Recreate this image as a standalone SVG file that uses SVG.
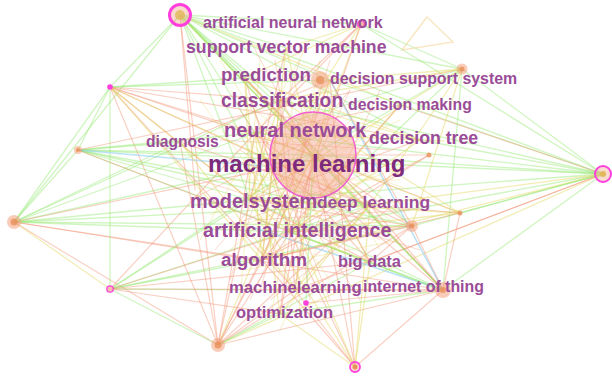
<svg xmlns="http://www.w3.org/2000/svg" width="612" height="376" viewBox="0 0 612 376">
<style>
.g{stroke:#8ee66c;stroke-width:1.3;opacity:.42}
.y{stroke:#e2d860;stroke-width:1.3;opacity:.45}
.o{stroke:#f09070;stroke-width:1.2;opacity:.42}
.b{stroke:#8fcfee;stroke-width:1.6;opacity:.6}
.m line{stroke-width:1;opacity:.35}
.lab{font-family:"Liberation Sans",Arial,sans-serif;font-weight:bold;fill:#9a4c98}
.halo{fill:#f4a080;opacity:.55}
.core{fill:#e8905a;opacity:.8}
.ring{fill:#f6b8a0;fill-opacity:.5;stroke:#ff40dd}
</style>
<rect width="612" height="376" fill="#ffffff"/>
<g id="connectors" fill="none">
<line class="g" x1="180" y1="15" x2="361" y2="24"/>
<line class="g" x1="180" y1="15" x2="462" y2="69"/>
<line class="g" x1="180" y1="15" x2="603" y2="174"/>
<line class="g" x1="180" y1="15" x2="313" y2="155"/>
<line class="g" x1="180" y1="15" x2="255" y2="133"/>
<line class="g" x1="180" y1="15" x2="280" y2="100"/>
<line class="g" x1="180" y1="15" x2="245" y2="78"/>
<line class="g" x1="180" y1="15" x2="250" y2="200"/>
<line class="g" x1="180" y1="15" x2="110" y2="87"/>
<line class="g" x1="180" y1="15" x2="14" y2="222"/>
<line class="g" x1="180" y1="15" x2="330" y2="80"/>
<line class="g" x1="180" y1="15" x2="412" y2="226"/>
<line class="g" x1="180" y1="15" x2="370" y2="205"/>
<line class="g" x1="180" y1="15" x2="420" y2="140"/>
<line class="g" x1="180" y1="15" x2="290" y2="232"/>
<line class="g" x1="180" y1="15" x2="286" y2="48"/>
<line class="o" x1="180" y1="15" x2="195" y2="190"/>
<line class="y" x1="180" y1="15" x2="400" y2="105"/>
<line class="y" x1="180" y1="15" x2="443" y2="290"/>
<line class="g" x1="603" y1="174" x2="361" y2="24"/>
<line class="g" x1="603" y1="174" x2="330" y2="80"/>
<line class="g" x1="603" y1="174" x2="313" y2="155"/>
<line class="g" x1="603" y1="174" x2="255" y2="133"/>
<line class="g" x1="603" y1="174" x2="78" y2="150"/>
<line class="g" x1="603" y1="174" x2="250" y2="200"/>
<line class="g" x1="603" y1="174" x2="290" y2="232"/>
<line class="g" x1="603" y1="174" x2="412" y2="226"/>
<line class="g" x1="603" y1="174" x2="443" y2="290"/>
<line class="g" x1="603" y1="174" x2="462" y2="69"/>
<line class="g" x1="603" y1="174" x2="420" y2="140"/>
<line class="g" x1="603" y1="174" x2="280" y2="100"/>
<line class="y" x1="603" y1="174" x2="262" y2="260"/>
<line class="y" x1="603" y1="174" x2="370" y2="205"/>
<line class="y" x1="603" y1="174" x2="218" y2="345"/>
<line class="o" x1="603" y1="174" x2="295" y2="290"/>
<line class="o" x1="603" y1="174" x2="370" y2="262"/>
<line class="o" x1="603" y1="174" x2="400" y2="105"/>
<line class="g" x1="14" y1="222" x2="110" y2="87"/>
<line class="g" x1="14" y1="222" x2="313" y2="155"/>
<line class="g" x1="14" y1="222" x2="255" y2="133"/>
<line class="g" x1="14" y1="222" x2="250" y2="200"/>
<line class="g" x1="14" y1="222" x2="290" y2="232"/>
<line class="g" x1="14" y1="222" x2="78" y2="150"/>
<line class="g" x1="14" y1="222" x2="412" y2="226"/>
<line class="g" x1="14" y1="222" x2="180" y2="142"/>
<line class="g" x1="14" y1="222" x2="280" y2="100"/>
<line class="g" x1="14" y1="222" x2="370" y2="205"/>
<line class="o" x1="14" y1="222" x2="218" y2="345"/>
<line class="y" x1="14" y1="222" x2="110" y2="289"/>
<line class="o" x1="14" y1="222" x2="313" y2="160"/>
<line class="o" x1="14" y1="222" x2="443" y2="290"/>
<line class="o" x1="14" y1="222" x2="262" y2="260"/>
<line class="g" x1="110" y1="289" x2="250" y2="200"/>
<line class="g" x1="110" y1="289" x2="262" y2="260"/>
<line class="g" x1="110" y1="289" x2="313" y2="155"/>
<line class="g" x1="110" y1="289" x2="412" y2="226"/>
<line class="g" x1="110" y1="289" x2="110" y2="87"/>
<line class="g" x1="110" y1="289" x2="295" y2="290"/>
<line class="g" x1="110" y1="289" x2="370" y2="205"/>
<line class="o" x1="110" y1="289" x2="290" y2="232"/>
<line class="o" x1="110" y1="289" x2="443" y2="290"/>
<line class="o" x1="110" y1="289" x2="280" y2="314"/>
<line class="o" x1="110" y1="289" x2="370" y2="262"/>
<line class="o" x1="110" y1="289" x2="255" y2="133"/>
<line class="o" x1="218" y1="345" x2="313" y2="155"/>
<line class="o" x1="218" y1="345" x2="262" y2="260"/>
<line class="o" x1="218" y1="345" x2="290" y2="232"/>
<line class="o" x1="218" y1="345" x2="295" y2="290"/>
<line class="o" x1="218" y1="345" x2="412" y2="226"/>
<line class="o" x1="218" y1="345" x2="443" y2="290"/>
<line class="o" x1="218" y1="345" x2="110" y2="87"/>
<line class="o" x1="218" y1="345" x2="180" y2="15"/>
<line class="o" x1="218" y1="345" x2="250" y2="200"/>
<line class="o" x1="218" y1="345" x2="370" y2="205"/>
<line class="o" x1="218" y1="345" x2="255" y2="133"/>
<line class="o" x1="218" y1="345" x2="180" y2="142"/>
<line class="g" x1="218" y1="345" x2="370" y2="262"/>
<line class="g" x1="218" y1="345" x2="280" y2="314"/>
<line class="g" x1="218" y1="345" x2="110" y2="289"/>
<line class="y" x1="218" y1="345" x2="330" y2="80"/>
<line class="o" x1="355" y1="367" x2="313" y2="155"/>
<line class="o" x1="355" y1="367" x2="295" y2="290"/>
<line class="o" x1="355" y1="367" x2="262" y2="260"/>
<line class="y" x1="355" y1="367" x2="370" y2="205"/>
<line class="y" x1="355" y1="367" x2="370" y2="262"/>
<line class="o" x1="355" y1="367" x2="290" y2="232"/>
<line class="y" x1="355" y1="367" x2="250" y2="200"/>
<line class="o" x1="355" y1="367" x2="443" y2="290"/>
<line class="y" x1="355" y1="367" x2="280" y2="314"/>
<line class="o" x1="355" y1="367" x2="330" y2="80"/>
<line class="y" x1="355" y1="367" x2="255" y2="133"/>
<line class="g" x1="443" y1="290" x2="313" y2="155"/>
<line class="g" x1="443" y1="290" x2="250" y2="200"/>
<line class="g" x1="443" y1="290" x2="290" y2="232"/>
<line class="g" x1="443" y1="290" x2="280" y2="314"/>
<line class="o" x1="443" y1="290" x2="255" y2="133"/>
<line class="o" x1="443" y1="290" x2="370" y2="205"/>
<line class="o" x1="443" y1="290" x2="295" y2="290"/>
<line class="o" x1="443" y1="290" x2="245" y2="78"/>
<line class="b" x1="443" y1="290" x2="330" y2="80"/>
<line class="b" x1="443" y1="290" x2="255" y2="228"/>
<line class="g" x1="443" y1="290" x2="180" y2="15"/>
<line class="o" x1="110" y1="87" x2="313" y2="155"/>
<line class="o" x1="110" y1="87" x2="255" y2="133"/>
<line class="o" x1="110" y1="87" x2="280" y2="100"/>
<line class="o" x1="110" y1="87" x2="250" y2="200"/>
<line class="o" x1="110" y1="87" x2="295" y2="290"/>
<line class="o" x1="110" y1="87" x2="412" y2="226"/>
<line class="y" x1="110" y1="87" x2="370" y2="205"/>
<line class="y" x1="110" y1="87" x2="290" y2="232"/>
<line class="o" x1="110" y1="87" x2="420" y2="140"/>
<line class="g" x1="110" y1="87" x2="78" y2="150"/>
<line class="g" x1="110" y1="87" x2="245" y2="78"/>
<line class="y" x1="110" y1="87" x2="262" y2="260"/>
<line class="g" x1="110" y1="87" x2="330" y2="80"/>
<line class="g" x1="78" y1="150" x2="313" y2="155"/>
<line class="g" x1="78" y1="150" x2="255" y2="133"/>
<line class="g" x1="78" y1="150" x2="412" y2="226"/>
<line class="g" x1="78" y1="150" x2="443" y2="290"/>
<line class="g" x1="78" y1="150" x2="250" y2="200"/>
<line class="g" x1="78" y1="150" x2="370" y2="205"/>
<line class="g" x1="78" y1="150" x2="180" y2="142"/>
<line class="b" x1="78" y1="150" x2="262" y2="166"/>
<line class="o" x1="78" y1="150" x2="462" y2="69"/>
<line class="o" x1="78" y1="150" x2="290" y2="232"/>
<line class="g" x1="462" y1="69" x2="313" y2="155"/>
<line class="y" x1="462" y1="69" x2="330" y2="80"/>
<line class="g" x1="462" y1="69" x2="255" y2="133"/>
<line class="y" x1="462" y1="69" x2="250" y2="200"/>
<line class="g" x1="462" y1="69" x2="361" y2="24"/>
<line class="y" x1="462" y1="69" x2="412" y2="226"/>
<line class="y" x1="462" y1="69" x2="280" y2="100"/>
<line class="y" x1="462" y1="69" x2="370" y2="205"/>
<line class="g" x1="462" y1="69" x2="290" y2="232"/>
<line class="g" x1="462" y1="69" x2="443" y2="290"/>
<line class="y" x1="361" y1="24" x2="313" y2="155"/>
<line class="o" x1="361" y1="24" x2="280" y2="100"/>
<line class="y" x1="361" y1="24" x2="245" y2="78"/>
<line class="o" x1="361" y1="24" x2="255" y2="133"/>
<line class="y" x1="361" y1="24" x2="250" y2="200"/>
<line class="o" x1="361" y1="24" x2="290" y2="232"/>
<line class="y" x1="361" y1="24" x2="286" y2="48"/>
<line class="o" x1="460" y1="213" x2="313" y2="155"/>
<line class="y" x1="460" y1="213" x2="255" y2="133"/>
<line class="y" x1="460" y1="213" x2="250" y2="200"/>
<line class="o" x1="460" y1="213" x2="370" y2="205"/>
<line class="y" x1="460" y1="213" x2="290" y2="232"/>
<line class="o" x1="460" y1="213" x2="443" y2="290"/>
<line class="g" x1="460" y1="213" x2="603" y2="174"/>
<line class="o" x1="460" y1="213" x2="262" y2="260"/>
<line class="y" x1="460" y1="213" x2="280" y2="100"/>
<line class="o" x1="412" y1="226" x2="313" y2="155"/>
<line class="o" x1="412" y1="226" x2="290" y2="232"/>
<line class="o" x1="412" y1="226" x2="262" y2="260"/>
<line class="o" x1="412" y1="226" x2="370" y2="262"/>
<line class="o" x1="412" y1="226" x2="250" y2="200"/>
<line class="o" x1="412" y1="226" x2="443" y2="290"/>
<line class="o" x1="412" y1="226" x2="330" y2="80"/>
<line class="y" x1="245" y1="78" x2="313" y2="155"/>
<line class="y" x1="245" y1="78" x2="250" y2="200"/>
<line class="o" x1="245" y1="78" x2="290" y2="232"/>
<line class="y" x1="245" y1="78" x2="262" y2="260"/>
<line class="o" x1="245" y1="78" x2="370" y2="205"/>
<line class="y" x1="245" y1="78" x2="420" y2="140"/>
<line class="y" x1="280" y1="100" x2="250" y2="200"/>
<line class="o" x1="280" y1="100" x2="262" y2="260"/>
<line class="y" x1="280" y1="100" x2="370" y2="262"/>
<line class="o" x1="280" y1="100" x2="295" y2="290"/>
<line class="y" x1="280" y1="100" x2="420" y2="140"/>
<line class="y" x1="255" y1="133" x2="290" y2="232"/>
<line class="o" x1="255" y1="133" x2="370" y2="262"/>
<line class="y" x1="255" y1="133" x2="280" y2="314"/>
<line class="o" x1="255" y1="133" x2="400" y2="105"/>
<line class="y" x1="250" y1="200" x2="370" y2="205"/>
<line class="o" x1="250" y1="200" x2="370" y2="262"/>
<line class="y" x1="250" y1="200" x2="295" y2="290"/>
<line class="o" x1="250" y1="200" x2="420" y2="140"/>
<line class="y" x1="290" y1="232" x2="370" y2="262"/>
<line class="o" x1="290" y1="232" x2="280" y2="314"/>
<line class="y" x1="290" y1="232" x2="420" y2="140"/>
<line class="o" x1="262" y1="260" x2="370" y2="205"/>
<line class="y" x1="262" y1="260" x2="313" y2="155"/>
<line class="o" x1="295" y1="290" x2="313" y2="155"/>
<line class="y" x1="295" y1="290" x2="370" y2="205"/>
<line class="o" x1="280" y1="314" x2="313" y2="155"/>
<line class="y" x1="280" y1="314" x2="370" y2="205"/>
<line class="o" x1="370" y1="262" x2="313" y2="155"/>
<line class="y" x1="330" y1="80" x2="250" y2="200"/>
<line class="o" x1="330" y1="80" x2="262" y2="260"/>
<line class="y" x1="330" y1="80" x2="295" y2="290"/>
<line class="o" x1="330" y1="80" x2="180" y2="142"/>
<line class="y" x1="286" y1="48" x2="313" y2="155"/>
<line class="o" x1="286" y1="48" x2="250" y2="200"/>
<line class="y" x1="286" y1="48" x2="262" y2="260"/>
<line class="o" x1="180" y1="142" x2="370" y2="205"/>
<line class="y" x1="180" y1="142" x2="295" y2="290"/>
<line class="o" x1="429" y1="155" x2="313" y2="155"/>
<line class="o" x1="429" y1="155" x2="290" y2="232"/>
<line class="o" x1="429" y1="155" x2="262" y2="260"/>
<line class="y" x1="444" y1="141" x2="255" y2="133"/>
<line class="y" x1="400" y1="105" x2="290" y2="232"/>
<line class="o" x1="400" y1="105" x2="262" y2="260"/>
<line class="g" x1="306" y1="303" x2="313" y2="155"/>
<line class="o" x1="306" y1="303" x2="443" y2="290"/>
<line class="g" x1="290" y1="232" x2="440" y2="290"/>
<g class="m">
<line class="y" x1="220" y1="60" x2="340" y2="250"/>
<line class="y" x1="230" y1="90" x2="390" y2="220"/>
<line class="o" x1="240" y1="110" x2="360" y2="300"/>
<line class="y" x1="260" y1="60" x2="240" y2="300"/>
<line class="o" x1="300" y1="60" x2="230" y2="280"/>
<line class="y" x1="320" y1="60" x2="270" y2="320"/>
<line class="o" x1="350" y1="90" x2="250" y2="300"/>
<line class="y" x1="380" y1="120" x2="230" y2="250"/>
<line class="o" x1="400" y1="160" x2="220" y2="230"/>
<line class="y" x1="410" y1="190" x2="210" y2="120"/>
<line class="o" x1="200" y1="180" x2="420" y2="250"/>
<line class="y" x1="210" y1="215" x2="400" y2="120"/>
<line class="o" x1="215" y1="250" x2="350" y2="90"/>
<line class="y" x1="235" y1="270" x2="380" y2="170"/>
<line class="o" x1="260" y1="290" x2="330" y2="60"/>
<line class="y" x1="300" y1="320" x2="290" y2="70"/>
<line class="o" x1="330" y1="300" x2="250" y2="100"/>
<line class="y" x1="350" y1="250" x2="230" y2="120"/>
<line class="o" x1="380" y1="240" x2="240" y2="150"/>
<line class="y" x1="230" y1="180" x2="400" y2="180"/>
<line class="o" x1="220" y1="140" x2="390" y2="150"/>
<line class="y" x1="240" y1="240" x2="360" y2="110"/>
<line class="o" x1="275" y1="60" x2="310" y2="300"/>
<line class="y" x1="200" y1="100" x2="330" y2="280"/>
<line class="o" x1="255" y1="220" x2="410" y2="210"/>
<line class="y" x1="245" y1="270" x2="400" y2="240"/>
<line class="o" x1="270" y1="300" x2="400" y2="200"/>
<line class="y" x1="300" y1="100" x2="380" y2="250"/>
<line class="o" x1="320" y1="120" x2="260" y2="240"/>
<line class="y" x1="340" y1="200" x2="210" y2="160"/>
<line class="o" x1="190" y1="200" x2="330" y2="130"/>
<line class="y" x1="200" y1="240" x2="310" y2="40"/>
<line class="o" x1="380" y1="90" x2="300" y2="260"/>
<line class="y" x1="360" y1="150" x2="280" y2="330"/>
<line class="o" x1="250" y1="40" x2="350" y2="230"/>
<line class="y" x1="230" y1="230" x2="420" y2="160"/>
</g>
<polygon points="427,17 453,42 402,50" fill="none" stroke="#f3cf8a" stroke-width="1.5" opacity=".5"/>
</g>
<g id="node-machine-learning">
<circle cx="313" cy="155" r="43" fill="#f3a088" fill-opacity=".45" stroke="#f060d0" stroke-width="1.5"/>
<text class="lab" x="208" y="172" font-size="24" style="fill:#7d2a7c">machine learning</text>
</g>
<g id="node-top-left"><circle class="ring" cx="180" cy="15" r="10.5" stroke-width="3"/><circle cx="180" cy="15" r="5" fill="#e2b85a" opacity=".8"/></g>
<g id="node-top-mid"><circle cx="361" cy="24" r="3.5" fill="#f6b8a0" stroke="#ff50e0" stroke-width="1.5"/></g>
<g id="node-prediction-side"><circle class="halo" cx="320" cy="80" r="9"/><circle class="core" cx="320" cy="80" r="4"/></g>
<g id="node-dss-side"><circle class="halo" cx="462" cy="69" r="5.5"/><circle class="core" cx="462" cy="69" r="2.5"/></g>
<g id="node-left-upper"><circle cx="110" cy="87" r="2.8" fill="#ff40dd"/></g>
<g id="node-left-mid"><circle class="halo" cx="78" cy="150" r="4"/><circle class="core" cx="78" cy="150" r="2"/></g>
<g id="node-left"><circle class="halo" cx="14" cy="222" r="7"/><circle class="core" cx="14" cy="222" r="3.5"/></g>
<g id="node-left-lower"><circle cx="110" cy="289" r="3.2" fill="#f6c0b0" stroke="#ff40dd" stroke-width="1.3"/></g>
<g id="node-bottom-left"><circle class="halo" cx="218" cy="345" r="7"/><circle class="core" cx="218" cy="345" r="3.5"/></g>
<g id="node-bottom"><circle class="ring" cx="355" cy="367" r="5" stroke-width="1.8"/><circle cx="355" cy="367" r="2.5" fill="#e8905a"/></g>
<g id="node-iot-side"><circle class="halo" cx="443" cy="290" r="8"/><circle class="core" cx="443" cy="290" r="3"/></g>
<g id="node-dl-side"><circle class="halo" cx="412" cy="226" r="6"/><circle class="core" cx="412" cy="226" r="2.5"/></g>
<g id="node-dl-small"><circle class="core" cx="460" cy="213" r="2.5"/></g>
<g id="node-dt-small"><circle class="core" cx="429" cy="155" r="2.5"/></g>
<g id="node-right"><circle class="ring" cx="603" cy="174" r="8" stroke-width="2"/><circle cx="603" cy="174" r="3" fill="#e2b85a"/></g>
<g id="node-ml-small"><circle cx="306" cy="303" r="2.8" fill="#ff40dd"/></g>
<g id="labels">
<g id="node-artificial-neural-network"><text class="lab" x="203" y="28" font-size="16">artificial neural network</text></g>
<g id="node-support-vector-machine"><text class="lab" x="186" y="53" font-size="17.7">support vector machine</text></g>
<g id="node-prediction"><text class="lab" x="221" y="81" font-size="18.6">prediction</text></g>
<g id="node-decision-support-system"><text class="lab" x="330" y="84" font-size="15.9">decision support system</text></g>
<g id="node-classification"><text class="lab" x="221" y="107" font-size="19.3">classification</text></g>
<g id="node-decision-making"><text class="lab" x="348" y="110" font-size="15.8">decision making</text></g>
<g id="node-neural-network"><text class="lab" x="224" y="137" font-size="20">neural network</text></g>
<g id="node-decision-tree"><text class="lab" x="369" y="144" font-size="17.7">decision tree</text></g>
<g id="node-diagnosis"><text class="lab" x="146" y="147" font-size="15.6">diagnosis</text></g>
<g id="node-modelsystem"><text class="lab" x="190" y="208" font-size="19.9">modelsystem</text></g>
<g id="node-deep-learning"><text class="lab" x="317" y="208" font-size="17.4">deep learning</text></g>
<g id="node-artificial-intelligence"><text class="lab" x="203" y="237" font-size="19.6">artificial intelligence</text></g>
<g id="node-algorithm"><text class="lab" x="221" y="266" font-size="18.9">algorithm</text></g>
<g id="node-big-data"><text class="lab" x="338" y="267" font-size="16.4">big data</text></g>
<g id="node-machinelearning"><text class="lab" x="229" y="293" font-size="16.7">machinelearning</text></g>
<g id="node-internet-of-thing"><text class="lab" x="363" y="292" font-size="15.9">internet of thing</text></g>
<g id="node-optimization"><text class="lab" x="236" y="318" font-size="16.5">optimization</text></g>
</g>
</svg>
